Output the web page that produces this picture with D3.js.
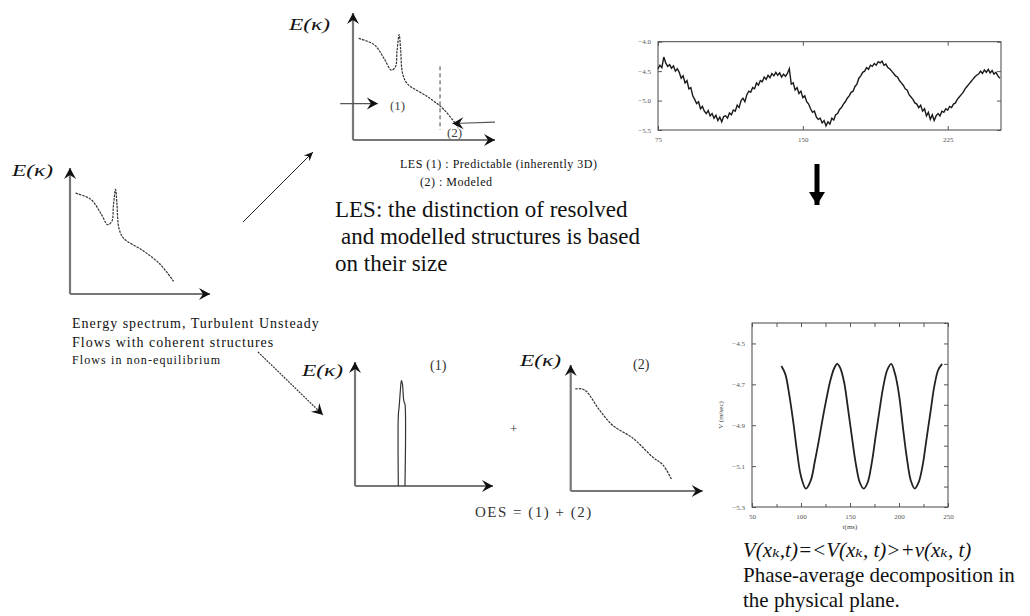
<!DOCTYPE html>
<html><head><meta charset="utf-8">
<script src="https://cdn.jsdelivr.net/npm/d3@7"></script>
<style>body{margin:0;background:#fff}svg{display:block}</style>
</head><body><svg id="c" width="1030" height="616"></svg>
<script>
// ---------- data ----------
// energy spectrum with coherent peak (shape units: k 0..10, E 0..10)
const spectrumK = [0.4, 1.5, 2.2, 2.7, 3.0, 3.1, 3.25, 3.35, 3.5, 3.85, 5.2, 6.4, 7.4];
const spectrumE = [8.0, 7.5, 6.4, 5.5, 5.8, 7.0, 8.3, 7.2, 5.2, 4.4, 3.45, 2.4, 1.0];
// coherent part (1)
const peakK = [3.14, 3.14, 3.2, 3.28, 3.36, 3.44, 3.52, 3.58, 3.62, 3.62];
const peakE = [0, 5.7, 6.4, 7.6, 8.5, 8.2, 7.0, 6.7, 6.6, 0];
// modelled part (2)
const modelledK = [0.35, 0.85, 1.2, 2.2, 3.2, 4.7, 6.2, 7.0, 7.65];
const modelledE = [8.1, 8.1, 7.9, 6.4, 5.2, 4.2, 2.7, 2.05, 0.9];
// raw velocity signal, t = 75 ... 252 ms every 1 ms
const signalT0 = 75, signalStep = 1;
const signalV = [
 -4.46,-4.40,-4.44,-4.26,-4.36,-4.42,-4.39,-4.45,-4.41,-4.50,
 -4.46,-4.52,-4.62,-4.58,-4.70,-4.66,-4.80,-4.78,-4.92,-4.98,
 -5.05,-5.02,-5.14,-5.10,-5.18,-5.22,-5.17,-5.26,-5.22,-5.30,
 -5.25,-5.34,-5.28,-5.36,-5.27,-5.26,-5.30,-5.21,-5.24,-5.16,
 -5.18,-5.08,-5.12,-5.00,-4.96,-5.02,-4.90,-4.84,-4.86,-4.78,
 -4.80,-4.70,-4.74,-4.66,-4.68,-4.60,-4.64,-4.57,-4.61,-4.54,
 -4.58,-4.52,-4.57,-4.53,-4.60,-4.55,-4.59,-4.54,-4.46,-4.72,
 -4.70,-4.82,-4.78,-4.88,-4.84,-4.95,-4.92,-5.02,-5.06,-5.14,
 -5.20,-5.18,-5.28,-5.32,-5.30,-5.38,-5.34,-5.43,-5.36,-5.40,
 -5.30,-5.33,-5.24,-5.22,-5.15,-5.12,-5.06,-5.02,-4.96,-4.92,
 -4.86,-4.84,-4.76,-4.72,-4.62,-4.58,-4.52,-4.50,-4.44,-4.47,
 -4.40,-4.42,-4.37,-4.40,-4.34,-4.36,-4.33,-4.40,-4.38,-4.44,
 -4.46,-4.50,-4.54,-4.58,-4.60,-4.66,-4.70,-4.74,-4.80,-4.82,
 -4.90,-4.94,-4.98,-5.04,-5.06,-5.12,-5.08,-5.18,-5.14,-5.26,
 -5.20,-5.32,-5.24,-5.34,-5.26,-5.22,-5.26,-5.18,-5.20,-5.14,
 -5.16,-5.10,-5.12,-5.06,-5.04,-4.98,-4.94,-4.90,-4.86,-4.80,
 -4.76,-4.72,-4.68,-4.64,-4.60,-4.57,-4.55,-4.50,-4.54,-4.48,
 -4.52,-4.47,-4.53,-4.49,-4.55,-4.52,-4.58,-4.62];
// phase averaged signal
const phaseT = [80,84,88,92,96,100,105,110,114,118,122,126,130,134,137,140,144,148,152,156,160,164,
 168,172,176,180,184,188,192,196,200,204,208,212,216,220,224,228,232,236,240,244];
const phaseV = [-4.61,-4.65,-4.75,-4.88,-5.03,-5.15,-5.21,-5.17,-5.08,-4.98,-4.87,-4.77,-4.68,-4.62,-4.60,
 -4.62,-4.69,-4.82,-4.96,-5.09,-5.18,-5.21,-5.18,-5.09,-4.96,-4.83,-4.71,-4.63,-4.60,-4.65,-4.75,
 -4.91,-5.06,-5.17,-5.21,-5.18,-5.10,-4.97,-4.84,-4.71,-4.63,-4.60];
const signalYTicks = [-4.0, -4.5, -5.0, -5.5];
const signalXTicks = [75, 150, 225];
const phaseYTicks = [-4.5, -4.7, -4.9, -5.1, -5.3];
const phaseXTicks = [50, 100, 150, 200, 250];

// ---------- drawing ----------
const svg = d3.select("#c");
svg.append("rect").attr("width",1030).attr("height",616).attr("fill","#fff");
const defs = svg.append("defs");
defs.append("marker").attr("id","chev").attr("markerUnits","userSpaceOnUse")
  .attr("viewBox","-12 -7 14 14").attr("markerWidth",14).attr("markerHeight",14)
  .attr("refX",0).attr("refY",0).attr("orient","auto")
  .append("path").attr("d","M-11,-6 L0,0 L-11,6 L-7,0 Z").attr("fill","#111");
defs.append("marker").attr("id","small").attr("markerUnits","userSpaceOnUse")
  .attr("viewBox","-10 -5 12 10").attr("markerWidth",12).attr("markerHeight",10)
  .attr("refX",0).attr("refY",0).attr("orient","auto")
  .append("path").attr("d","M-9,-4 L0,0 L-9,4 L-6,0 Z").attr("fill","#111");
defs.append("marker").attr("id","big").attr("markerUnits","userSpaceOnUse")
  .attr("viewBox","-14 -9 16 18").attr("markerWidth",16).attr("markerHeight",18)
  .attr("refX",0).attr("refY",0).attr("orient","auto")
  .append("path").attr("d","M-13,-8 L0,0 L-13,8 Z").attr("fill","#000");

const serif = "'Liberation Serif','DejaVu Serif',serif";

function spectrumAxes(ox, oy, w, h){
  const x = d3.scaleLinear([0,10],[ox, ox+w]);
  const y = d3.scaleLinear([0,10],[oy, oy-h]);
  const g = svg.append("g");
  g.append("line").attr("x1",x(0)).attr("y1",y(0)).attr("x2",x(0)).attr("y2",y(10))
    .attr("stroke","#777").attr("stroke-width",2.2).attr("marker-end","url(#chev)");
  g.append("line").attr("x1",x(0)).attr("y1",y(0)).attr("x2",x(10)).attr("y2",y(0))
    .attr("stroke","#777").attr("stroke-width",2.2).attr("marker-end","url(#chev)");
  return {x,y,g};
}
function curve(p, ks, es, dash){
  const line = d3.line().x((d,i)=>p.x(ks[i])).y((d,i)=>p.y(es[i])).curve(d3.curveCatmullRom.alpha(0.5));
  p.g.append("path").attr("d", line(ks)).attr("fill","none").attr("stroke","#333")
    .attr("stroke-width",1.2).attr("stroke-dasharray", dash || "2.5,1");
}
function label(x, y, txt, size, opts){
  opts = opts || {};
  const t = svg.append("text").attr("x",x).attr("y",y).attr("font-family",serif)
    .attr("font-size",size).attr("fill",opts.fill||"#111").text(txt);
  if (opts.italic) t.attr("font-style","italic");
  if (opts.ls) t.attr("letter-spacing",opts.ls);
  if (opts.len) t.attr("textLength",opts.len).attr("lengthAdjust","spacingAndGlyphs");
  if (opts.anchor) t.attr("text-anchor",opts.anchor);
  return t;
}

// left spectrum
const pL = spectrumAxes(70, 294, 140, 126);
curve(pL, spectrumK, spectrumE);
label(12, 176, "E(κ)", 17, {italic:true, len:41});

// top middle LES spectrum
const pT = spectrumAxes(353, 140, 142, 127);
curve(pT, spectrumK, spectrumE);
label(289, 30, "E(κ)", 17, {italic:true, len:41});
pT.g.append("line").attr("x1",pT.x(6.13)).attr("x2",pT.x(6.13)).attr("y1",pT.y(5.8)).attr("y2",pT.y(0.8))
  .attr("stroke","#444").attr("stroke-width",1).attr("stroke-dasharray","4,3");
pT.g.append("line").attr("x1",pT.x(-0.9)).attr("x2",pT.x(1.75)).attr("y1",pT.y(2.87)).attr("y2",pT.y(2.87))
  .attr("stroke","#555").attr("stroke-width",1.2).attr("marker-end","url(#chev)");
pT.g.append("line").attr("x1",pT.x(10)).attr("x2",pT.x(7.0)).attr("y1",pT.y(1.4)).attr("y2",pT.y(1.3))
  .attr("stroke","#555").attr("stroke-width",1.2).attr("marker-end","url(#chev)");
label(390, 110, "(1)", 13, {fill:"#444"});
label(447, 137, "(2)", 13, {fill:"#444"});
label(400, 168, "LES (1) : Predictable (inherently 3D)", 12, {ls:0.5});
label(420, 186, "(2) : Modeled", 12, {ls:0.5});
label(335, 217, "LES: the distinction of resolved", 23);
label(341, 244, "and modelled structures is based", 23);
label(335, 271, "on their size", 23);

// left captions
label(72, 328, "Energy spectrum, Turbulent Unsteady", 14, {ls:1});
label(72, 347, "Flows with coherent structures", 14, {ls:1});
label(72, 364, "Flows in non-equilibrium", 12, {ls:1.1});

// arrows between panels
svg.append("line").attr("x1",243).attr("y1",222).attr("x2",313).attr("y2",152)
  .attr("stroke","#222").attr("stroke-width",1).attr("marker-end","url(#small)");
svg.append("line").attr("x1",258).attr("y1",352).attr("x2",323).attr("y2",415)
  .attr("stroke","#333").attr("stroke-width",1.2).attr("stroke-dasharray","2,1").attr("marker-end","url(#chev)");

// bottom (1)
const pB1 = spectrumAxes(355, 486, 138, 124);
curve(pB1, peakK, peakE, "none");
label(302, 376, "E(κ)", 17, {italic:true, len:41});
label(430, 370, "(1)", 14, {fill:"#333"});
label(510, 433, "+", 13, {fill:"#333"});
label(475, 517, "OES = (1) + (2)", 15, {fill:"#333", ls:1.5});

// bottom (2)
const pB2 = spectrumAxes(570.7, 491, 132, 126);
curve(pB2, modelledK, modelledE);
label(520, 366, "E(κ)", 17, {italic:true, len:41});
label(633, 369, "(2)", 14, {fill:"#333"});

// top-right raw signal
const sx = d3.scaleLinear([75, 252.6],[658, 1001]);
const sy = d3.scaleLinear([-5.5, -4.0],[130, 41.7]);
const gs = svg.append("g").attr("font-family", serif);
gs.append("rect").attr("x",sx(75)).attr("y",sy(-4.0)).attr("width",sx(252.6)-sx(75)).attr("height",sy(-5.5)-sy(-4.0))
  .attr("fill","none").attr("stroke","#444").attr("stroke-width",1);
function tinyAxis(g, axis, tr){
  const a = g.append("g").attr("transform",tr).call(axis);
  a.select(".domain").remove();
  a.selectAll("line").attr("stroke","#555");
  a.selectAll("text").attr("font-size",7).attr("fill","#555").attr("font-family",serif);
  return a;
}
tinyAxis(gs, d3.axisLeft(sy).tickValues(signalYTicks).tickFormat(d3.format(".1f")).tickSize(-4).tickPadding(7), `translate(${sx(75)},0)`);
tinyAxis(gs, d3.axisBottom(sx).tickValues(signalXTicks).tickFormat(d3.format("d")).tickSize(-4).tickPadding(7), `translate(0,${sy(-5.5)})`);
tinyAxis(gs, d3.axisRight(sy).tickValues(signalYTicks).tickFormat("").tickSize(-4), `translate(${sx(252.6)},0)`);
tinyAxis(gs, d3.axisTop(sx).tickValues(signalXTicks).tickFormat("").tickSize(-4), `translate(0,${sy(-4.0)})`);
const sline = d3.line().x((d,i)=>sx(signalT0 + i*signalStep)).y(d=>sy(d));
gs.append("path").attr("d", sline(signalV)).attr("fill","none").attr("stroke","#1a1a1a").attr("stroke-width",1.4);

// down arrow
svg.append("line").attr("x1",817).attr("y1",164).attr("x2",817).attr("y2",205)
  .attr("stroke","#000").attr("stroke-width",5).attr("marker-end","url(#big)");

// bottom-right phase average
const px = d3.scaleLinear([50, 250],[752, 948]);
const py = d3.scaleLinear([-5.3, -4.4],[507, 323]);
const gp = svg.append("g");
gp.append("rect").attr("x",px(50)).attr("y",py(-4.4)).attr("width",px(250)-px(50)).attr("height",py(-5.3)-py(-4.4))
  .attr("fill","none").attr("stroke","#444").attr("stroke-width",1);
const minorY = d3.range(-5.3, -4.39, 0.1);
const minorX = d3.range(50, 251, 25);
tinyAxis(gp, d3.axisLeft(py).tickValues(phaseYTicks).tickFormat(d3.format(".1f")).tickSize(-4).tickPadding(7), `translate(${px(50)},0)`);
tinyAxis(gp, d3.axisRight(py).tickValues(minorY).tickFormat("").tickSize(-4), `translate(${px(250)},0)`);
tinyAxis(gp, d3.axisBottom(px).tickValues(phaseXTicks).tickFormat(d3.format("d")).tickSize(-4).tickPadding(7), `translate(0,${py(-5.3)})`);
tinyAxis(gp, d3.axisBottom(px).tickValues(minorX).tickFormat("").tickSize(-3), `translate(0,${py(-5.3)})`);
tinyAxis(gp, d3.axisTop(px).tickValues(minorX).tickFormat("").tickSize(-4), `translate(0,${py(-4.4)})`);
const pline = d3.line().x((d,i)=>px(phaseT[i])).y(d=>py(d)).curve(d3.curveCatmullRom);
gp.append("path").attr("d", pline(phaseV)).attr("fill","none").attr("stroke","#222").attr("stroke-width",1.8);
label(723, 415, "V (m/sec)", 7, {fill:"#444", anchor:"middle"}).attr("transform","rotate(-90,723,415)");
label(850, 529, "t(ms)", 7, {fill:"#444", anchor:"middle"});

// formula & caption (subscript k as a Unicode character to keep one text run)
label(743, 557, "V(xₖ,t)=<V(xₖ, t)>+v(xₖ, t)", 21, {italic:true});
label(743, 582, "Phase-average decomposition in", 21);
label(743, 607, "the physical plane.", 21);
</script></body></html>
